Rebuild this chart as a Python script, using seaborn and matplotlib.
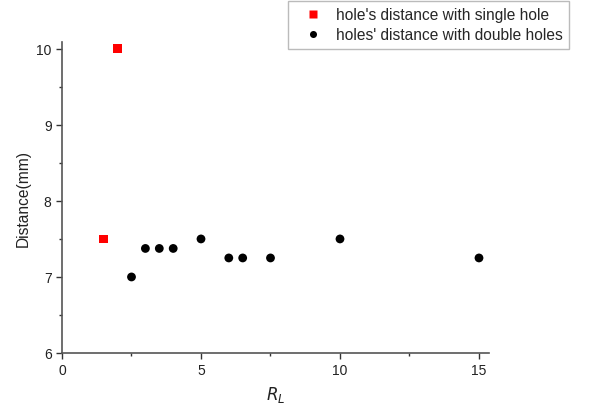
import matplotlib
matplotlib.use("Agg")
import matplotlib.pyplot as plt
import seaborn as sns
import pandas as pd
from matplotlib.ticker import MultipleLocator

sns.set_style("ticks")
plt.rcParams['font.family'] = ['Liberation Sans', 'DejaVu Sans']

single_x = [1.5, 2.0]
single_y = [7.5, 10.0]
double_x = [2.5, 3.0, 3.5, 4.0, 5.0, 6.0, 6.5, 7.5, 10.0, 15.0]
double_y = [7.0, 7.375, 7.375, 7.375, 7.5, 7.25, 7.25, 7.25, 7.5, 7.25]
label_single = "hole's distance with single hole"
label_double = "holes' distance with double holes"

df = pd.concat([
    pd.DataFrame({"RL": single_x, "D": single_y, "series": label_single}),
    pd.DataFrame({"RL": double_x, "D": double_y, "series": label_double}),
])

fig = plt.figure(figsize=(5.89, 4.10), dpi=100)
ax = fig.add_axes([62/589, 1-354/410, (489-62)/589, (354-43)/410])

sns.scatterplot(data=df, x="RL", y="D", hue="series", style="series",
                palette={label_single: "#ff0000", label_double: "#000000"},
                markers={label_single: "s", label_double: "o"},
                s=40, edgecolor="none", ax=ax, legend=True)

ax.set_xlim(0, 15.36)
ax.set_ylim(6, 10.09)
ax.xaxis.set_major_locator(MultipleLocator(5))
ax.xaxis.set_minor_locator(MultipleLocator(2.5))
ax.yaxis.set_major_locator(MultipleLocator(1))
ax.yaxis.set_minor_locator(MultipleLocator(0.5))
for s in ["top", "right"]:
    ax.spines[s].set_visible(False)
for s in ["left", "bottom"]:
    ax.spines[s].set_color("#555555")
    ax.spines[s].set_linewidth(1.2)
ax.tick_params(which="major", direction="out", length=4, width=1, color="#333333",
               labelsize=10, labelcolor="#222222")
ax.tick_params(which="minor", direction="out", length=2, width=1, color="#333333")

ax.set_ylabel("Distance(mm)", fontsize=11.2, color="#222222")
ax.set_xlabel(r"$\mathit{R}_{\mathit{L}}$", fontsize=12, color="#222222", labelpad=5)

handles, labels = ax.get_legend_handles_labels()
ax.legend(handles, labels, loc="upper left", bbox_to_anchor=(288/589, 1-2/410),
          bbox_transform=fig.transFigure, frameon=True, fancybox=False,
          edgecolor="#aaaaaa", fontsize=11.2, handletextpad=0.27, borderaxespad=0,
          borderpad=0.4, labelspacing=0.33, handlelength=2.4, markerscale=0.8)

fig.savefig("out.png", dpi=100)
